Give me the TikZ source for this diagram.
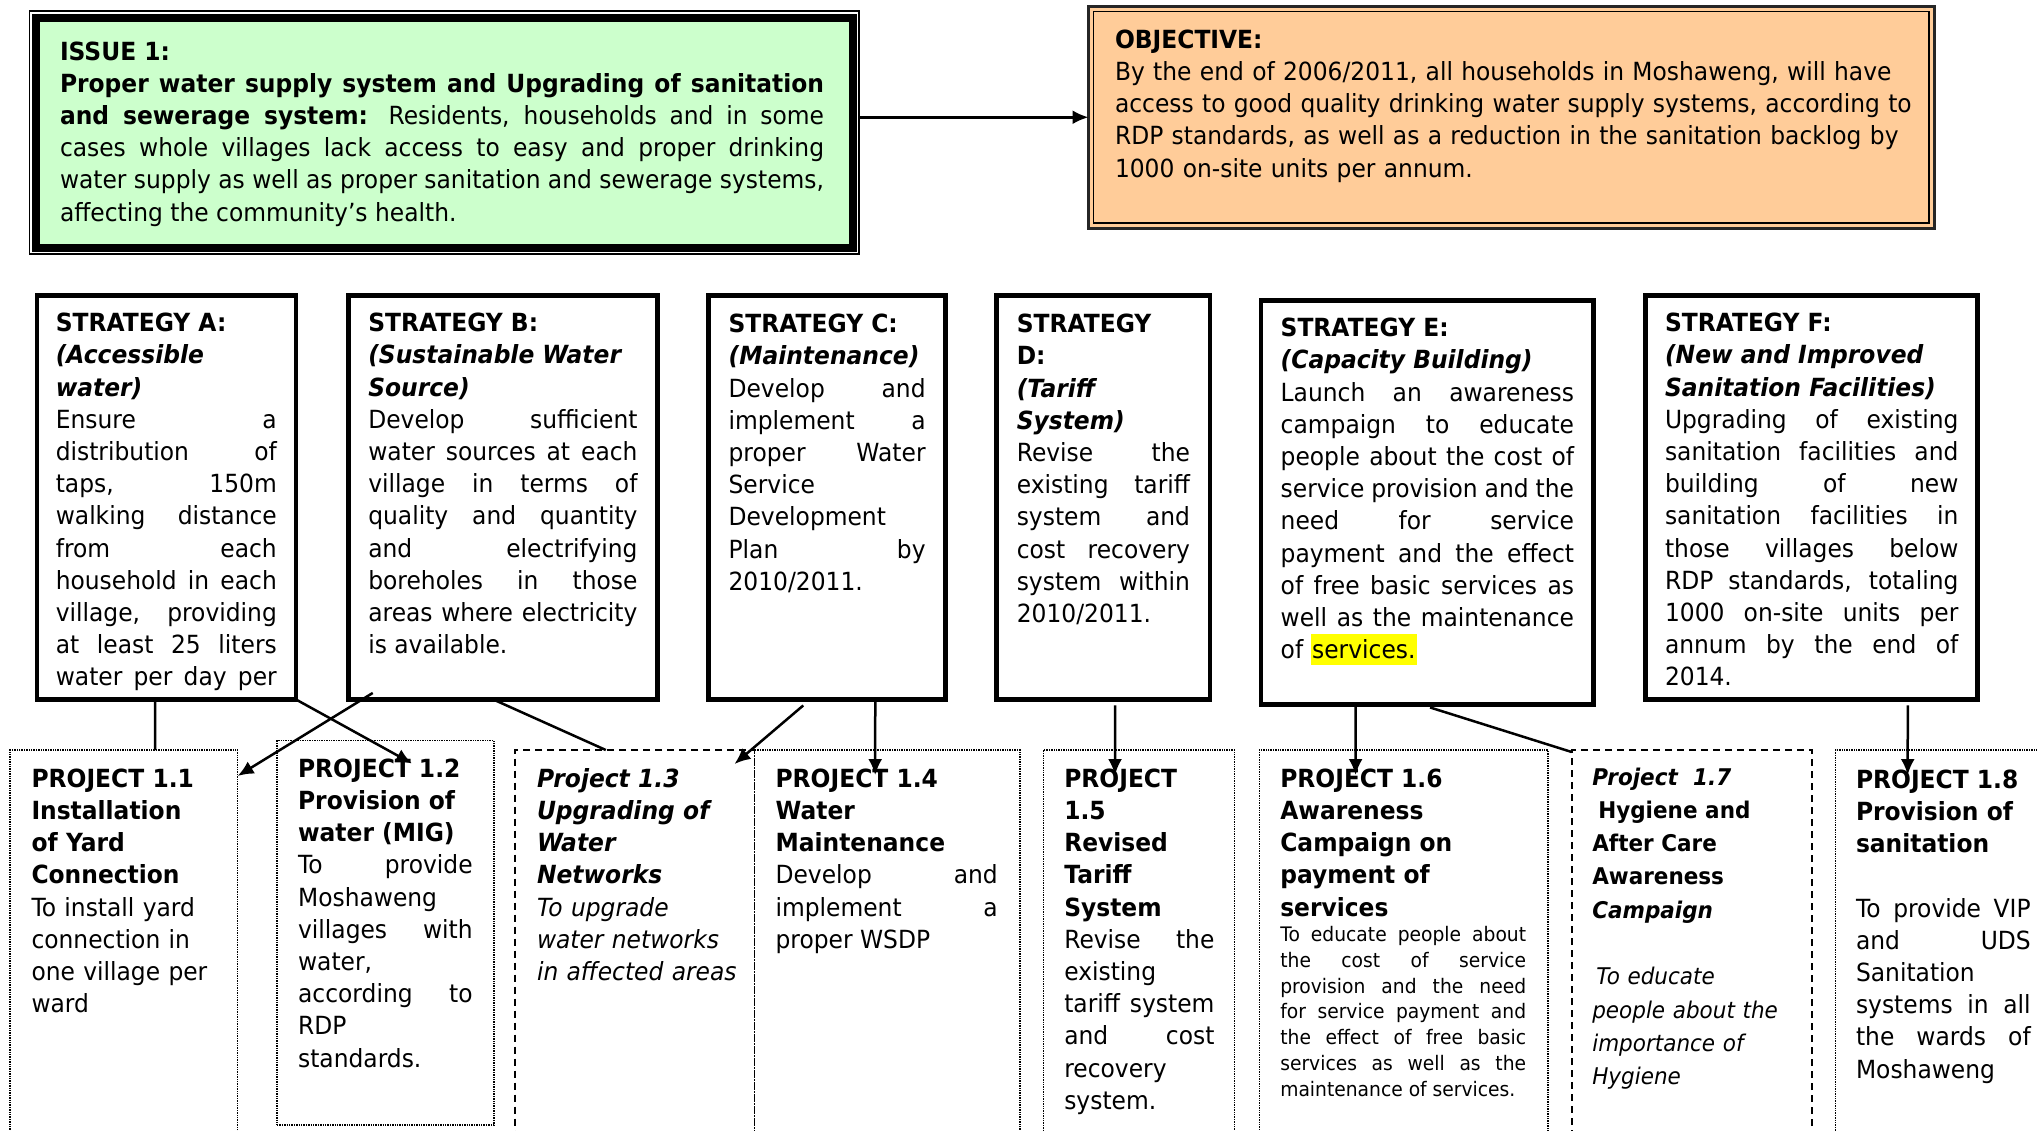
\documentclass[tikz,border=0pt]{standalone}
\usepackage{fontspec}
\setmainfont{DejaVu Sans}[FakeStretch=0.935]
\usetikzlibrary{arrows.meta}

\definecolor{issuefill}{HTML}{CCFFCC}
\definecolor{objfill}{HTML}{FFCC99}
\definecolor{marker}{HTML}{FFFF00}

% type sizes (1pt = 1 unit of the drawing)
\newcommand\bodyfont{\fontsize{25}{32.2}\selectfont\tolerance=10000\hbadness=10000\hyphenpenalty=10000\exhyphenpenalty=10000}
\newcommand\smallbody{\fontsize{20}{25.7}\selectfont}
\newcommand\handfont{\fontsize{23}{33.3}\selectfont\tolerance=10000\hbadness=10000\hyphenpenalty=10000}
\newcommand\marked[1]{{\setlength{\fboxsep}{0pt}\colorbox{marker}{\rule[-6pt]{0pt}{31pt}\kern1.5pt#1\kern1.5pt}}}

\begin{document}
\begin{tikzpicture}[x=1pt,y=-1pt,
  boxbase/.style={inner sep=0pt, outer sep=0pt, anchor=north west},
  stratbox/.style={boxbase, draw, line width=4.5pt, minimum height=403.9pt},
  projbox/.style={boxbase, draw, line width=1.5pt, dash pattern=on 1.4pt off 1pt, minimum height=400pt},
  dashbox/.style={boxbase, draw, line width=1.8pt, dash pattern=on 7pt off 5pt, minimum height=400pt},
  body/.style={anchor=north west, inner sep=0pt, outer sep=0pt, align=justify, font=\bodyfont},
  joiner/.style={line width=2.5pt},
  joinarrow/.style={line width=2.5pt, -{Latex[length=16pt,width=14pt]}},
]
\useasboundingbox (0,0) rectangle (2037,1130);
\fill[white] (0,0) rectangle (2037,1130);
\clip (0,0) rectangle (2037,1130);

% ---------- issue ----------
\node[boxbase, draw, line width=1.5pt, minimum width=829.5pt, minimum height=243pt] (issue) at (29.5,11) {};
\node[boxbase, draw, line width=8pt, fill=issuefill, minimum width=816.5pt, minimum height=230pt] (issueframe) at (36,17.5) {};
\node[body, text width=764pt] (tIssue) at (60,37.5) {\strut\textbf{ISSUE 1:}\hfil\break
\textbf{Proper water supply system and Upgrading of sanitation}\break
\textbf{and sewerage system:} Residents, households and in some\break
cases whole villages lack access to easy and proper drinking\break
water supply as well as proper sanitation and sewerage systems,\break
affecting the community’s health.};

% ---------- objective ----------
\node[boxbase, draw=black!85, line width=3pt, fill=objfill, minimum width=845.5pt, minimum height=221.5pt] (obj) at (1088.5,6.5) {};
\node[boxbase, draw, line width=1.5pt, minimum width=835.5pt, minimum height=211.5pt] (objinner) at (1093.5,11.5) {};
\node[body, align=left, text width=830pt] (tObj) at (1115,25.8) {\strut\textbf{OBJECTIVE:}\\
By the end of 2006/2011, all households in Moshaweng, will have\\
access to good quality drinking water supply systems, according to\\
RDP standards, as well as a reduction in the sanitation backlog by\\
1000 on-site units per annum.};

\draw[joinarrow] (issue.east |- obj.west) -- (obj.west);

% ---------- strategies ----------
\node[stratbox, minimum width=258.9pt] (sA) at (37.05,295.55) {};
\node[stratbox, minimum width=309.3pt] (sB) at (348.25,295.55) {};
\node[stratbox, minimum width=237.4pt] (sC) at (708.25,295.55) {};
\node[stratbox, minimum width=213.2pt] (sD) at (996.55,295.55) {};
\node[stratbox, minimum width=332.6pt] (sE) at (1261.05,300.55) {};
\node[stratbox, minimum width=332pt] (sF) at (1645.45,295.55) {};

\node[body, text width=221pt] (tA) at (55.8,309.2) {\strut\textbf{STRATEGY A:}\hfil\break
\textbf{\itshape (Accessible}\hfil\break
\textbf{\itshape water)}\hfil\break
Ensure a\break distribution of\break taps, 150m\break walking distance\break from each\break
household in each\break village, providing\break at least 25 liters\break water per day per\parfillskip=0pt\par};

\node[body, text width=269.2pt] (tB) at (368.3,309.2) {\strut\textbf{STRATEGY B:}\hfil\break
\textbf{\itshape (Sustainable Water}\hfil\break
\textbf{\itshape Source)}\hfil\break
Develop sufficient\break water sources at each\break village in terms of\break quality and quantity\break
and electrifying\break boreholes in those\break areas where electricity\break is available.};

\node[body, text width=197pt] (tC) at (728.6,310.2) {\strut\textbf{STRATEGY C:}\hfil\break
\textbf{\itshape (Maintenance)}\hfil\break
Develop and\break implement a\break proper Water\break Service\hfil\break Development\hfil\break
Plan by\break 2010/2011.};

\node[body, text width=173.2pt] (tD) at (1016.8,310.2) {\strut\textbf{STRATEGY}\hfil\break
\textbf{D:}\hfil\break
\textbf{\itshape (Tariff}\hfil\break
\textbf{\itshape System)}\hfil\break
Revise the\break existing tariff\break system and\break cost recovery\break system within\break 2010/2011.};

\node[body, text width=293.3pt] (tE) at (1280.7,314.2) {\strut\textbf{STRATEGY E:}\hfil\break
\textbf{\itshape (Capacity Building)}\hfil\break
Launch an awareness\break campaign to educate\break people about the cost of\break
service provision and the\break need for service\break payment and the effect\break
of free basic services as\break well as the maintenance\break of \marked{services.}};

\node[body, text width=293.4pt] (tF) at (1665,309.2) {\strut\textbf{STRATEGY F:}\hfil\break
\textbf{\itshape (New and Improved}\hfil\break
\textbf{\itshape Sanitation Facilities)}\hfil\break
Upgrading of existing\break sanitation facilities and\break building of new\break
sanitation facilities in\break those villages below\break RDP standards, totaling\break
1000 on-site units per\break annum by the end of\break 2014.};

% ---------- projects ----------
\node[projbox, minimum width=227.6pt] (p11) at (10,750) {};
\node[projbox, minimum width=217pt, minimum height=384.5pt] (p12) at (277,740.5) {};
\node[projbox, minimum width=265.3pt] (p14) at (754.5,750) {};
\node[dashbox, minimum width=239.7pt] (p13) at (514.8,750) {};
\node[projbox, minimum width=191pt] (p15) at (1043.3,750) {};
\node[projbox, minimum width=288.6pt] (p16) at (1259.4,750) {};
\node[dashbox, minimum width=240pt] (p17) at (1571.7,750) {};
\node[projbox, minimum width=220pt] (p18) at (1835.7,750) {};

\node[body, align=left, text width=200pt] (tP11) at (31.5,764.8) {\strut\textbf{PROJECT 1.1}\\
\textbf{Installation}\\ \textbf{of Yard}\\ \textbf{Connection}\\
To install yard\\ connection in\\ one village per\\ ward};

\node[body, text width=174.5pt] (tP12) at (298.1,754.8) {\strut\textbf{PROJECT 1.2}\hfil\break
\textbf{Provision of}\hfil\break \textbf{water (MIG)}\hfil\break
To provide\break Moshaweng\hfil\break villages with\break water,\hfil\break according to\break RDP\hfil\break standards.};

\node[body, align=left, text width=212pt] (tP13) at (537,764.8) {\strut\textbf{\itshape Project 1.3}\\
\textbf{\itshape Upgrading of}\\ \textbf{\itshape Water}\\ \textbf{\itshape Networks}\\
\textit{To upgrade}\\ \textit{water networks}\\ \textit{in affected areas}};

\node[body, text width=222.2pt] (tP14) at (775.6,764.8) {\strut\textbf{PROJECT 1.4}\hfil\break
\textbf{Water}\hfil\break \textbf{Maintenance}\hfil\break
Develop and\break implement a\break proper WSDP};

\node[body, text width=150.1pt] (tP15) at (1064.3,764.8) {\strut\textbf{PROJECT}\hfil\break
\textbf{1.5}\hfil\break \textbf{Revised}\hfil\break \textbf{Tariff}\hfil\break \textbf{System}\hfil\break
Revise the\break existing\hfil\break tariff system\break and cost\break recovery\hfil\break system.};

\node[body, text width=245.8pt] (tP16) at (1280.3,764.8) {\strut\textbf{PROJECT 1.6}\hfil\break
\textbf{Awareness}\hfil\break \textbf{Campaign on}\hfil\break \textbf{payment of}\hfil\break \textbf{services}\par
\smallbody To educate people about\break the cost of service\break provision and the need\break
for service payment and\break the effect of free basic\break services as well as the\break
maintenance of services.\par};

\node[body, align=left, font=\handfont, text width=212pt] (tP17) at (1592.3,761.7) {\strut\textbf{\itshape Project\ \ 1.7}\\
\hspace*{6pt}\textbf{Hygiene and}\\ \textbf{After Care}\\ \textbf{Awareness}\\ \textbf{\itshape Campaign}\\ \mbox{}\\
\hspace*{4pt}\textit{To educate}\\ \textit{people about the}\\ \textit{importance of}\\ \textit{Hygiene}};

\node[body, text width=174.7pt] (tP18) at (1856,765.8) {\strut\textbf{PROJECT 1.8}\hfil\break
\textbf{Provision of}\hfil\break \textbf{sanitation}\hfil\break \mbox{}\hfil\break
To provide VIP\break and UDS\break Sanitation\hfil\break systems in all\break the wards of\break Moshaweng};

% ---------- connectors ----------
\draw[joiner] ([xshift=118pt]sA.south west) -- ([xshift=145pt]p11.north west);
\draw[joinarrow] (sA.south east) -- ([xshift=135pt,yshift=-23pt]p12.north west);
\draw[joinarrow] ([xshift=24.5pt,yshift=6.5pt]sB.south west) -- ([yshift=-26pt]p11.north east);
\draw[joiner] ([xshift=145pt]sB.south west) -- ([xshift=91pt]p13.north west);
\draw[joinarrow] ([xshift=95pt,yshift=-6pt]sC.south west) -- ([xshift=-20pt,yshift=-14pt]p13.north east);
\draw[joinarrow] ([xshift=167pt]sC.south west) -- ([xshift=120.7pt,yshift=-25pt]p14.north west);
\draw[joinarrow] ([xshift=118.5pt,yshift=-6pt]sD.south west) -- ([xshift=71.7pt,yshift=-25pt]p15.north west);
\draw[joinarrow] ([xshift=94.5pt]sE.south west) -- ([xshift=96.2pt,yshift=-25pt]p16.north west);
\draw[joiner] ([xshift=169pt,yshift=-3pt]sE.south west) -- ([yshift=-2pt]p17.north west);
\draw[joinarrow] ([xshift=262.3pt,yshift=-6pt]sF.south west) -- ([xshift=72pt,yshift=-25pt]p18.north west);
\end{tikzpicture}
\end{document}
